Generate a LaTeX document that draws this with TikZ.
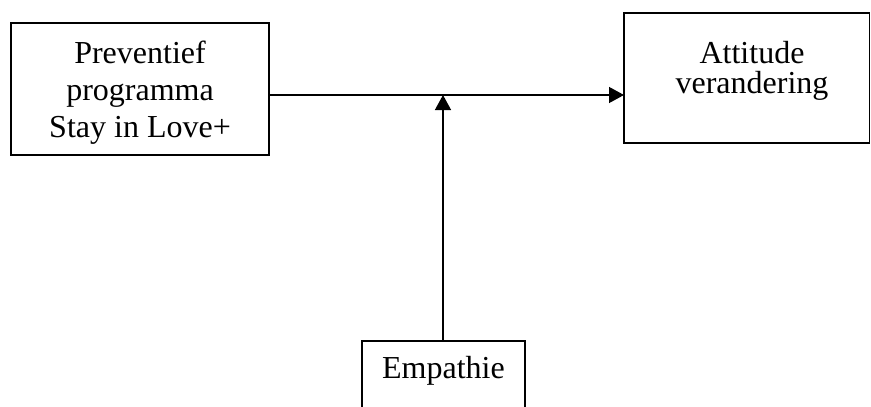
\documentclass[tikz,border=0pt]{standalone}
\usepackage{fontspec}
\setmainfont{Liberation Serif}
\usetikzlibrary{arrows.meta}
\begin{document}
\begin{tikzpicture}[x=1pt,y=-1pt,
  box/.style={draw,line width=1.3pt,inner sep=0pt,outer sep=0pt},
  txt/.style={anchor=base,inner sep=0pt,font=\fontsize{32}{36}\selectfont},
  conn/.style={line width=1.3pt,-{Triangle[length=15pt,width=16pt]}}]
\clip (0,0) rectangle (871,407);
\node[box,minimum width=258pt,minimum height=132pt] (left) at (140,89) {};
\node[box,minimum width=245.5pt,minimum height=130pt] (right) at (746.75,78) {};
\node[box,minimum width=163pt,minimum height=100pt] (emp) at (443.5,391) {};
\node[txt] (l1) at (140,63) {Preventief};
\node[txt] (l2) at (140,100) {programma};
\node[txt] (l3) at (140,137) {Stay in Love+};
\node[txt] (r1) at (752,63) {Attitude};
\node[txt] (r2) at (752,93) {verandering};
\node[txt] (e1) at (443.5,378) {Empathie};
\coordinate (j) at (443,95);
\draw[conn] (left.east |- j) -- (right.west |- j);
\draw[conn] (emp.north -| j) -- (j);
\end{tikzpicture}
\end{document}
